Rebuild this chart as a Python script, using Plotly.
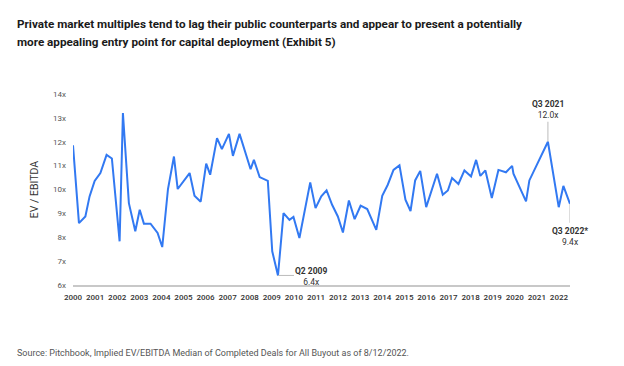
import plotly.graph_objects as go

# Quarter position (decimal year) and median EV/EBITDA multiple
period = [2000.00, 2000.27, 2000.56, 2000.75, 2000.98, 2001.24, 2001.52, 2001.76,
          2002.11, 2002.26, 2002.53, 2002.82, 2003.02, 2003.21, 2003.51, 2003.83,
          2004.04, 2004.30, 2004.57, 2004.74, 2005.28, 2005.50, 2005.78, 2006.03,
          2006.21, 2006.52, 2006.74, 2007.06, 2007.24, 2007.54, 2008.04, 2008.19,
          2008.45, 2008.82, 2009.02, 2009.28, 2009.53, 2009.80, 2009.98, 2010.25,
          2010.74, 2010.98, 2011.24, 2011.48, 2011.73, 2011.99, 2012.22, 2012.49,
          2012.75, 2013.02, 2013.32, 2013.73, 2014.00, 2014.25, 2014.51, 2014.78,
          2015.05, 2015.28, 2015.49, 2015.72, 2015.99, 2016.48, 2016.74, 2016.97,
          2017.16, 2017.45, 2017.72, 2018.02, 2018.25, 2018.44, 2018.67, 2018.96,
          2019.26, 2019.60, 2019.88, 2019.94, 2020.51, 2020.66, 2021.50, 2021.99,
          2022.20, 2022.50]
multiple = [11.85, 8.59, 8.87, 9.71, 10.36, 10.69, 11.45, 11.30,
            7.83, 13.20, 9.43, 8.25, 9.15, 8.57, 8.57, 8.18,
            7.59, 10.02, 11.38, 10.02, 10.69, 9.74, 9.49, 11.08,
            10.62, 12.15, 11.69, 12.33, 11.41, 12.33, 10.85, 11.24,
            10.52, 10.36, 7.41, 6.40, 9.01, 8.73, 8.85, 7.97,
            10.30, 9.22, 9.71, 9.96, 9.36, 8.87, 8.20, 9.54,
            8.76, 9.32, 9.18, 8.31, 9.74, 10.20, 10.82, 11.01,
            9.57, 9.10, 10.38, 10.78, 9.26, 10.66, 9.78, 9.96,
            10.48, 10.23, 10.80, 10.55, 11.24, 10.57, 10.80, 9.64,
            10.82, 10.72, 10.99, 10.66, 9.50, 10.38, 12.00, 9.26,
            10.15, 9.40]

years = list(range(2000, 2023))
year_labels = [str(y) for y in years]
y_ticks = list(range(6, 15))
y_labels = [f"{v}x" for v in y_ticks]

title_lines = ["Private market multiples tend to lag their public counterparts and appear to present a potentially",
               "more appealing entry point for capital deployment (Exhibit 5)"]
source = "Source: Pitchbook, Implied EV/EBITDA Median of Completed Deals for All Buyout as of 8/12/2022."

i_low = multiple.index(min(multiple))
i_peak = len(multiple) - 4
i_last = len(multiple) - 1

L, T, PW, PH = 65, 86, 497, 191

fig = go.Figure()
fig.add_trace(go.Scatter(x=period, y=multiple, mode="lines",
                         line=dict(color="#3279F2", width=2), hoverinfo="skip"))

fig.update_layout(
    width=624, height=366,
    margin=dict(l=L, r=624 - L - PW, t=T, b=366 - T - PH),
    paper_bgcolor="white", plot_bgcolor="white",
    showlegend=False,
    font=dict(family="Roboto, Arial, sans-serif", color="#333"),
    xaxis=dict(range=[2000, 2022.5], tickvals=years, ticktext=year_labels,
               showgrid=False, zeroline=False, showline=True, linecolor="#c8c8c8",
               linewidth=1.5, ticks="", tickfont=dict(size=8, color="#333", family="Roboto Medium, Roboto, Arial"),
               ticklabelstandoff=4),
    yaxis=dict(range=[6, 14], tickvals=y_ticks, ticktext=y_labels,
               showgrid=False, zeroline=False, showline=False, ticks="",
               tickfont=dict(size=8, color="#555"), ticklabelstandoff=6,
               title=dict(text="EV / EBITDA", font=dict(size=10.5, color="#333"), standoff=12)),
)

def px_x(p):
    return (p - L) / PW

def px_y(p):
    return 1 - (p - T) / PH

for k, line in enumerate(title_lines):
    fig.add_annotation(xref="paper", yref="paper", x=px_x(8), y=px_y(16 + 18 * k), xanchor="left", yanchor="middle",
                       text=f"<b>{line}</b>", showarrow=False, align="left", borderpad=0,
                       font=dict(size=11.7, color="#1a1a1a"))
fig.add_annotation(xref="paper", yref="paper", x=px_x(8), y=px_y(345), xanchor="left", yanchor="middle",
                   text=source, showarrow=False, align="left", borderpad=0,
                   font=dict(size=9, color="#555"))

ann_font = dict(size=8.5, color="#333")
# Q2 2009 low
fig.add_shape(type="line", xref="x", yref="y", xsizemode="pixel", xanchor=period[i_low],
              x0=0, x1=16, y0=multiple[i_low], y1=multiple[i_low], line=dict(color="#bbbbbb", width=1))
fig.add_annotation(x=period[i_low], y=multiple[i_low], xanchor="left", yanchor="middle", xshift=15, yshift=-1,
                   text="<b>Q2 2009</b><br>6.4x", showarrow=False, align="center", font=ann_font)
# Q3 2021 peak
fig.add_shape(type="line", xref="x", yref="y", ysizemode="pixel", yanchor=multiple[i_peak],
              x0=period[i_peak], x1=period[i_peak], y0=0, y1=20, line=dict(color="#bbbbbb", width=1))
fig.add_annotation(x=period[i_peak], y=multiple[i_peak], xanchor="center", yanchor="bottom", yshift=20,
                   text="<b>Q3 2021</b><br>12.0x", showarrow=False, align="center", font=ann_font)
# Q3 2022 last
fig.add_shape(type="line", xref="x", yref="y", ysizemode="pixel", yanchor=multiple[i_last],
              x0=period[i_last], x1=period[i_last], y0=0, y1=-19, line=dict(color="#bbbbbb", width=1))
fig.add_annotation(x=period[i_last], y=multiple[i_last], xanchor="center", yanchor="top", yshift=-20,
                   text="<b>Q3 2022*</b><br>9.4x", showarrow=False, align="center", font=ann_font)

fig.write_html("out.html")
